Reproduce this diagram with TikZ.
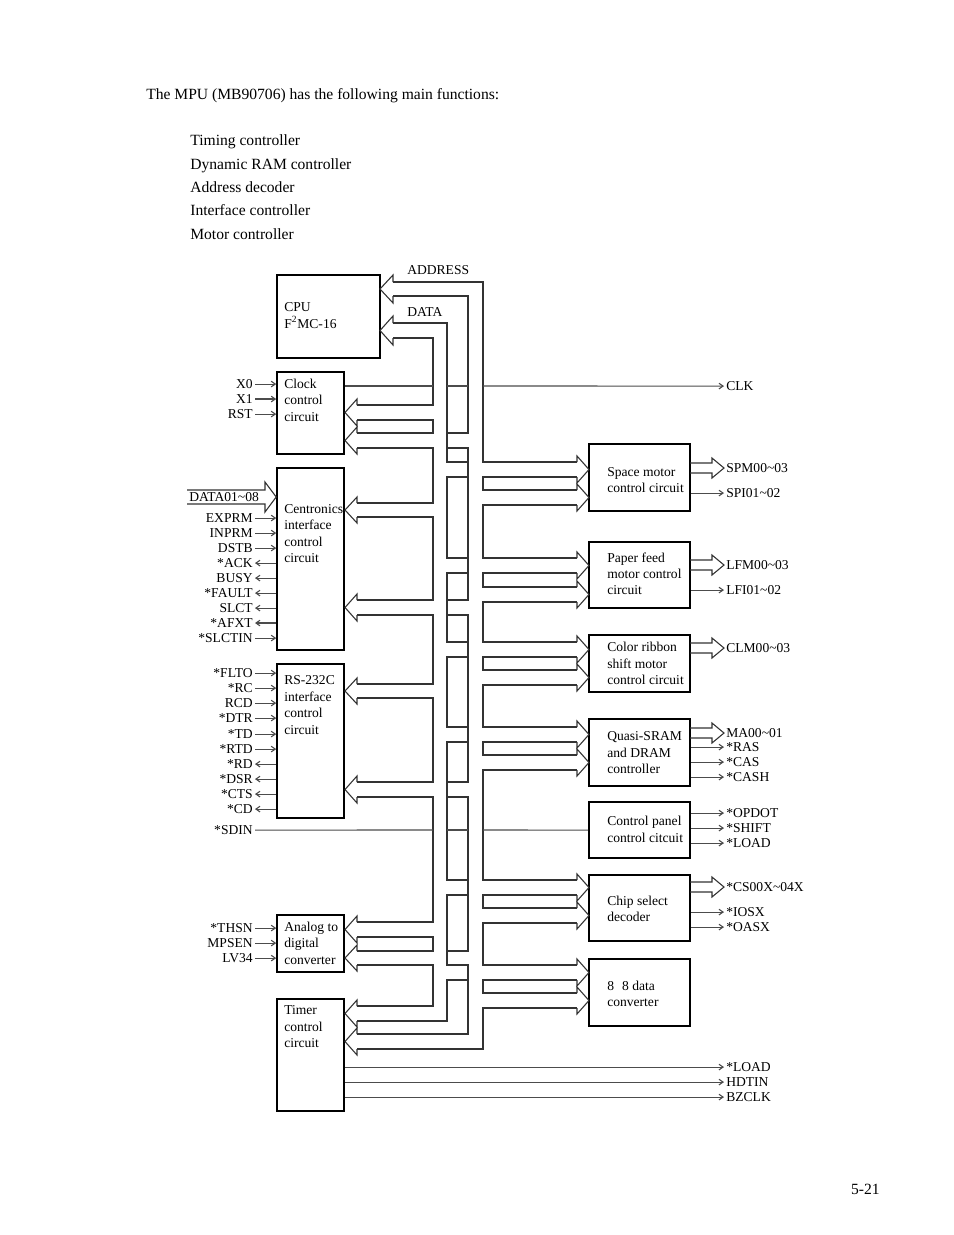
\documentclass[tikz,border=0pt]{standalone}
\usepackage{fontspec}
\setmainfont{Liberation Serif}
\usetikzlibrary{arrows.meta,fit}
\newcommand{\hollowout}[1]{\draw[bus] (690,#1-5) -- (712,#1-5) -- (712,#1-10) -- (724,#1) -- (712,#1+10) -- (712,#1+5) -- (690,#1+5);}
\begin{document}
\begin{tikzpicture}[x=0.6415pt,y=-0.6415pt,
  bus/.style={draw=black!80, line width=0.7pt},
  blk/.style={draw=black, line width=1pt, inner sep=0pt},
  sig/.style={draw=black!70, line width=0.7pt, -{Straight Barb[length=2.6pt,width=3.6pt]}},
  plain/.style={draw=black!70, line width=0.7pt},
  lab/.style={font=\fontsize{8.7}{10.3}\selectfont, inner sep=0pt},
  siglab/.style={lab, outer sep=1.5pt},
  hd/.style={font=\fontsize{10}{12}\selectfont, inner sep=0pt, anchor=base west},
]
\useasboundingbox (0,0) rectangle (954,1235);

% ---------- header ----------
\node[hd] (title) at (146,99) {The MPU (MB90706) has the following main functions:};
\foreach \t/\y [count=\i] in {Timing controller/141, Dynamic RAM controller/165, Address decoder/188, Interface controller/211, Motor controller/235}
  \node[hd] (item\i) at (190,\y+4.5) {\t};
\node[hd, anchor=base east] (page) at (880,1194.5) {5-21};

% ---------- boxes ----------
\node[blk, fit={(277,275)(380,358)}] (cpu) {};
\node[blk, fit={(277,372)(344,454)}] (clock) {};
\node[blk, fit={(277,468)(344,650)}] (centr) {};
\node[blk, fit={(277,664)(344,818)}] (rs) {};
\node[blk, fit={(277,915)(344,972)}] (adc) {};
\node[blk, fit={(277,999)(344,1111)}] (timer) {};
\node[blk, fit={(589,444)(690,511)}] (space) {};
\node[blk, fit={(589,542)(690,608)}] (paper) {};
\node[blk, fit={(589,635)(690,692)}] (color) {};
\node[blk, fit={(589,719)(690,786)}] (quasi) {};
\node[blk, fit={(589,802)(690,858)}] (panel) {};
\node[blk, fit={(589,875)(690,941)}] (chip) {};
\node[blk, fit={(589,959)(690,1026)}] (conv) {};

% ---------- box texts ----------
\foreach \t/\y [count=\i] in {CPU/307, F\textsuperscript{2}MC-16/324}
  \node[lab, anchor=base west] (tcpu\i) at (284,\y+4.5) {\t};
\foreach \t/\y [count=\i] in {Clock/384, control/400, circuit/417}
  \node[lab, anchor=base west] (tclk\i) at (284,\y+4.5) {\t};
\foreach \t/\y [count=\i] in {Centronics/509, interface/525, control/542, circuit/558}
  \node[lab, anchor=base west] (tcen\i) at (284,\y+4.5) {\t};
\foreach \t/\y [count=\i] in {RS-232C/680, interface/697, control/713, circuit/730}
  \node[lab, anchor=base west] (trs\i) at (284,\y+4.5) {\t};
\foreach \t/\y [count=\i] in {Analog to/927, digital/943, converter/960}
  \node[lab, anchor=base west] (tadc\i) at (284,\y+4.5) {\t};
\foreach \t/\y [count=\i] in {Timer/1010, control/1027, circuit/1043}
  \node[lab, anchor=base west] (ttim\i) at (284,\y+4.5) {\t};
\foreach \t/\y [count=\i] in {Space motor/472, control circuit/488}
  \node[lab, anchor=base west] (tspa\i) at (607,\y+4.5) {\t};
\foreach \t/\y [count=\i] in {Paper feed/558, motor control/574, circuit/590}
  \node[lab, anchor=base west] (tpap\i) at (607,\y+4.5) {\t};
\foreach \t/\y [count=\i] in {Color ribbon/647, shift motor/664, control circuit/680}
  \node[lab, anchor=base west] (tcol\i) at (607,\y+4.5) {\t};
\foreach \t/\y [count=\i] in {Quasi-SRAM/736, and DRAM/753, controller/769}
  \node[lab, anchor=base west] (tqua\i) at (607,\y+4.5) {\t};
\foreach \t/\y [count=\i] in {Control panel/821, control citcuit/838}
  \node[lab, anchor=base west] (tpan\i) at (607,\y+4.5) {\t};
\foreach \t/\y [count=\i] in {Chip select/901, decoder/917}
  \node[lab, anchor=base west] (tchi\i) at (607,\y+4.5) {\t};
\foreach \t/\y [count=\i] in {8\hspace{0.6em}8 data/986, converter/1002}
  \node[lab, anchor=base west] (tcon\i) at (607,\y+4.5) {\t};

\node[lab, anchor=base west] (laddr) at (407,274.5) {ADDRESS};
\node[lab, anchor=base west] (ldata) at (407,316.5) {DATA};

% ---------- buses ----------
% D1 (x=433)
\draw[bus] (393,338) -- (433,338) -- (433,405) -- (357,405);
\draw[bus] (357,420) -- (433,420) -- (433,433) -- (357,433);
\draw[bus] (357,448) -- (433,448) -- (433,503) -- (357,503);
\draw[bus] (357,517) -- (433,517) -- (433,600) -- (357,600);
\draw[bus] (357,615) -- (433,615) -- (433,684) -- (357,684);
\draw[bus] (357,698) -- (433,698) -- (433,782) -- (357,782);
\draw[bus] (357,797) -- (433,797) -- (433,922) -- (357,922);
\draw[bus] (357,937) -- (433,937) -- (433,951) -- (357,951);
\draw[bus] (357,965) -- (433,965) -- (433,1006) -- (357,1006);
% D2 (x=447)
\draw[bus] (393,323) -- (447,323) -- (447,462) -- (468,462);
\draw[bus] (468,477) -- (447,477) -- (447,558) -- (468,558);
\draw[bus] (468,573) -- (447,573) -- (447,642) -- (468,642);
\draw[bus] (468,657) -- (447,657) -- (447,727) -- (468,727);
\draw[bus] (468,742) -- (447,742) -- (447,880) -- (468,880);
\draw[bus] (468,895) -- (447,895) -- (447,965) -- (468,965);
\draw[bus] (468,980) -- (447,980) -- (447,1021) -- (357,1021);
% A1 (x=468)
\draw[bus] (393,296) -- (468,296) -- (468,433) -- (447,433);
\draw[bus] (447,448) -- (468,448) -- (468,600) -- (447,600);
\draw[bus] (447,615) -- (468,615) -- (468,782) -- (447,782);
\draw[bus] (447,797) -- (468,797) -- (468,951) -- (447,951);
\draw[bus] (447,965) -- (468,965) -- (468,1034) -- (357,1034);
% A2 (x=483)
\draw[bus] (393,282) -- (483,282) -- (483,462) -- (577,462);
\draw[bus] (577,477) -- (483,477) -- (483,490) -- (577,490);
\draw[bus] (577,505) -- (483,505) -- (483,558) -- (577,558);
\draw[bus] (577,573) -- (483,573) -- (483,587) -- (577,587);
\draw[bus] (577,602) -- (483,602) -- (483,642) -- (577,642);
\draw[bus] (577,657) -- (483,657) -- (483,670) -- (577,670);
\draw[bus] (577,685) -- (483,685) -- (483,727) -- (577,727);
\draw[bus] (577,742) -- (483,742) -- (483,755) -- (577,755);
\draw[bus] (577,770) -- (483,770) -- (483,880) -- (577,880);
\draw[bus] (577,895) -- (483,895) -- (483,908) -- (577,908);
\draw[bus] (577,923) -- (483,923) -- (483,965) -- (577,965);
\draw[bus] (577,980) -- (483,980) -- (483,993) -- (577,993);
\draw[bus] (577,1008) -- (483,1008) -- (483,1049) -- (357,1049);

% arrow heads
\draw[bus] (393,282) -- (393,275) -- (380,289) -- (393,303) -- (393,296);
\draw[bus] (393,323) -- (393,316) -- (380,330.5) -- (393,345) -- (393,338);
\foreach \a/\b in {405/420,433/448,503/517,600/615,684/698,782/797,922/937,951/965,1006/1021,1034/1049}
  \draw[bus] (357,\a) -- (357,\a-6) -- (345,{(\a+\b)/2}) -- (357,\b+6) -- (357,\b);
\foreach \a/\b in {462/477,490/505,558/573,587/602,642/657,670/685,727/742,755/770,880/895,908/923,965/980,993/1008}
  \draw[bus] (577,\a) -- (577,\a-6) -- (589,{(\a+\b)/2}) -- (577,\b+6) -- (577,\b);

% ---------- left signals ----------
\foreach \n/\t/\y in {a/X0/384, b/X1/399, c/RST/414}{
  \node[siglab, anchor=base east] (l\n) at (255,\y+4.5) {\t};
  \draw[sig] (l\n.east) -- (clock.west |- l\n.east);}
\foreach \n/\t/\y in {d/EXPRM/518, e/INPRM/533, f/DSTB/548, l/*SLCTIN/638}{
  \node[siglab, anchor=base east] (l\n) at (255,\y+4.5) {\t};
  \draw[sig] (l\n.east) -- (centr.west |- l\n.east);}
\foreach \n/\t/\y in {g/*ACK/563, h/BUSY/578, i/*FAULT/593, j/SLCT/608, k/*AFXT/623}{
  \node[siglab, anchor=base east] (l\n) at (255,\y+4.5) {\t};
  \draw[sig] (centr.west |- l\n.east) -- (l\n.east);}
\foreach \n/\t/\y in {m/*FLTO/673, n/*RC/688, o/RCD/703, p/*DTR/718, q/*TD/734, r/*RTD/749}{
  \node[siglab, anchor=base east] (l\n) at (255,\y+4.5) {\t};
  \draw[sig] (l\n.east) -- (rs.west |- l\n.east);}
\foreach \n/\t/\y in {s/*RD/764, t/*DSR/779, u/*CTS/794, v/*CD/809}{
  \node[siglab, anchor=base east] (l\n) at (255,\y+4.5) {\t};
  \draw[sig] (rs.west |- l\n.east) -- (l\n.east);}
\foreach \n/\t/\y in {x/*THSN/928, y/MPSEN/943, z/LV34/958}{
  \node[siglab, anchor=base east] (l\n) at (255,\y+4.5) {\t};
  \draw[sig] (l\n.east) -- (adc.west |- l\n.east);}

% *SDIN
\node[siglab, anchor=base east] (lsdin) at (255,830+4.5) {*SDIN};
\draw[plain] (lsdin.east) -- (433,830);
\draw[plain] (447,830) -- (468,830);
\draw[plain] (483,830) -- (panel.west |- lsdin.east);

% DATA01~08
\node[lab, anchor=base west] (ldat) at (189,497+4.5) {DATA01\textasciitilde08};
\draw[bus] (187,490) -- (265,490) -- (265,482) -- (centr.west |- 0,497) -- (265,512) -- (265,504) -- (187,504);

% ---------- right signals ----------
\node[siglab, anchor=base west] (rclk) at (724,386+4.5) {CLK};
\draw[plain] (clock.east |- 0,386) -- (433,386);
\draw[plain] (447,386) -- (468,386);
\draw[sig] (483,386) -- (rclk.west);

\foreach \n/\t/\y/\b in {a/SPM00\textasciitilde03/468/space, c/LFM00\textasciitilde03/565/paper, e/CLM00\textasciitilde03/648/color, f/MA00\textasciitilde01/733/quasi, m/*CS00X\textasciitilde04X/887/chip}{
  \node[siglab, anchor=base west] (r\n) at (724,\y+4.5) {\t};
  \hollowout{\y}}
\foreach \n/\t/\y/\b in {b/SPI01\textasciitilde02/493/space, d/LFI01\textasciitilde02/590/paper, g/*RAS/747/quasi, h/*CAS/762/quasi, i/*CASH/777/quasi, j/*OPDOT/813/panel, k/*SHIFT/828/panel, l/*LOAD/843/panel, n/*IOSX/912/chip, o/*OASX/927/chip}{
  \node[siglab, anchor=base west] (r\n) at (724,\y+4.5) {\t};
  \draw[sig] (\b.east |- r\n.west) -- (r\n.west);}
\foreach \n/\t/\y in {p/*LOAD/1067, q/HDTIN/1082, r/BZCLK/1097}{
  \node[siglab, anchor=base west] (r\n) at (724,\y+4.5) {\t};
  \draw[sig] (timer.east |- r\n.west) -- (r\n.west);}

\end{tikzpicture}
\end{document}
